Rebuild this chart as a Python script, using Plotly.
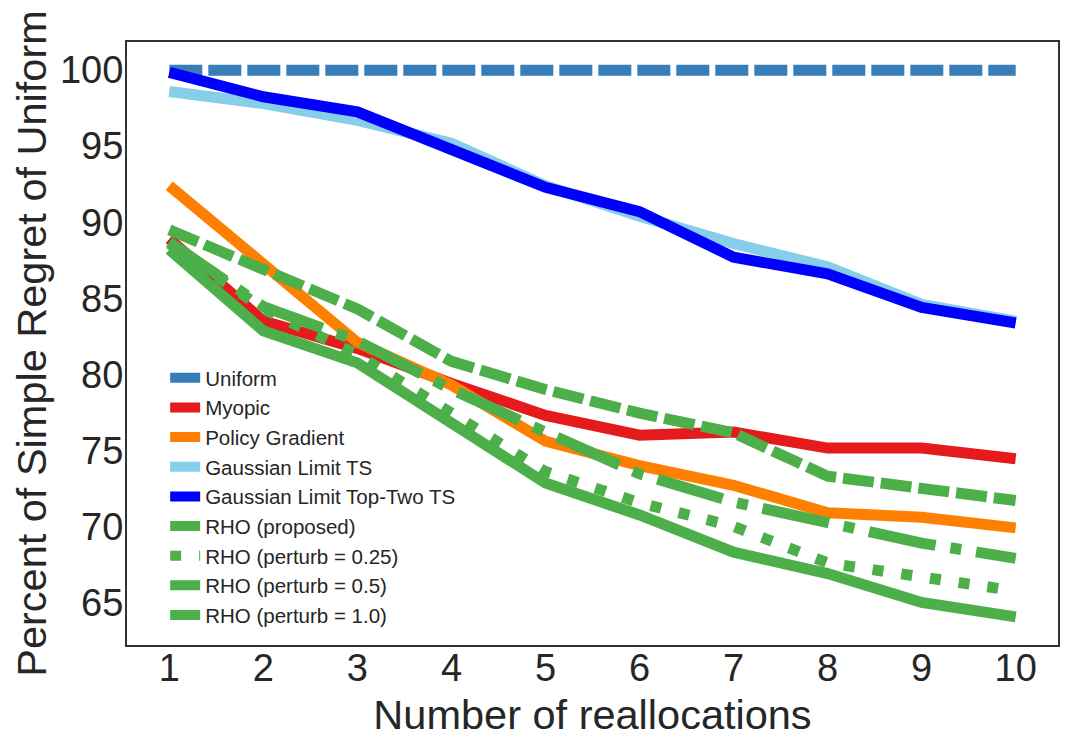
import plotly.graph_objects as go

# number of reallocations
reallocs = [1, 2, 3, 4, 5, 6, 7, 8, 9, 10]

# percent of simple regret of uniform
uniform = [100, 100, 100, 100, 100, 100, 100, 100, 100, 100]
myopic = [88.9, 83.5, 81.7, 79.4, 77.3, 76.0, 76.2, 75.15, 75.15, 74.45]
policy_grad = [92.4, 87.2, 82.1, 79.3, 75.6, 74.0, 72.7, 70.9, 70.6, 69.9]
gl_ts = [98.6, 97.8, 96.7, 95.2, 92.4, 90.4, 88.6, 87.07, 84.6, 83.5]
gl_top_two = [99.85, 98.25, 97.26, 94.86, 92.3, 90.7, 87.7, 86.6, 84.4, 83.37]
rho = [88.2, 82.85, 80.75, 76.8, 72.85, 70.75, 68.3, 66.9, 65.0, 64.05]
rho_025 = [88.6, 84.3, 81.3, 77.5, 73.6, 71.55, 70.0, 67.6, 66.6, 65.75]
rho_05 = [88.7, 84.45, 82.2, 79.0, 76.2, 73.45, 71.6, 70.2, 68.9, 67.9]
rho_10 = [89.5, 86.9, 84.3, 80.85, 79.0, 77.45, 76.15, 73.3, 72.5, 71.7]

series = [
    ("Uniform", uniform, "#377eb8", "33px,6px"),
    ("Myopic", myopic, "#e41a1c", "solid"),
    ("Policy Gradient", policy_grad, "#ff7f00", "solid"),
    ("Gaussian Limit TS", gl_ts, "#87ceeb", "solid"),
    ("Gaussian Limit Top-Two TS", gl_top_two, "#0000ff", "solid"),
    ("RHO (proposed)", rho, "#4daf4a", "solid"),
    ("RHO (perturb = 0.25)", rho_025, "#4daf4a", "11px,18px"),
    ("RHO (perturb = 0.5)", rho_05, "#4daf4a", "68px,15px,11px,15px"),
    ("RHO (perturb = 1.0)", rho_10, "#4daf4a", "31px,7px"),
]

fig = go.Figure()
for name, vals, color, dash in series:
    fig.add_trace(go.Scatter(
        x=reallocs, y=vals, name=name, mode="lines",
        line=dict(color=color, width=11, dash=dash)))

# the page body adds an 8px offset, so margins are trimmed to compensate
fig.update_layout(
    width=1068, height=742,
    margin=dict(l=119, r=18, t=34, b=105),
    plot_bgcolor="white", paper_bgcolor="white",
    font=dict(family="Liberation Sans, Arial, sans-serif", color="#262626"),
    showlegend=True,
    legend=dict(
        x=0.041, y=0.476, xanchor="left", yanchor="top",
        bgcolor="rgba(0,0,0,0)",
        font=dict(size=20.5, color="#262626"),
    ),
    xaxis=dict(
        range=[0.55, 10.45], tickvals=reallocs,
        showgrid=False, zeroline=False, automargin=False,
        showline=True, mirror=True, linecolor="#333333", linewidth=2,
        ticks="", ticklen=0,
        tickfont=dict(size=38), ticklabelstandoff=-12,
        title=dict(text="Number of reallocations", font=dict(size=41.5), standoff=12),
    ),
    yaxis=dict(
        range=[62.2, 101.85], tickvals=[65, 70, 75, 80, 85, 90, 95, 100],
        showgrid=False, zeroline=False, automargin=False,
        showline=True, mirror=True, linecolor="#333333", linewidth=2,
        ticks="", ticklen=0,
        tickfont=dict(size=38), ticklabelstandoff=-6,
        title=dict(text="Percent of Simple Regret of Uniform", font=dict(size=41.5), standoff=18),
    ),
)

fig.write_html("out.html")
